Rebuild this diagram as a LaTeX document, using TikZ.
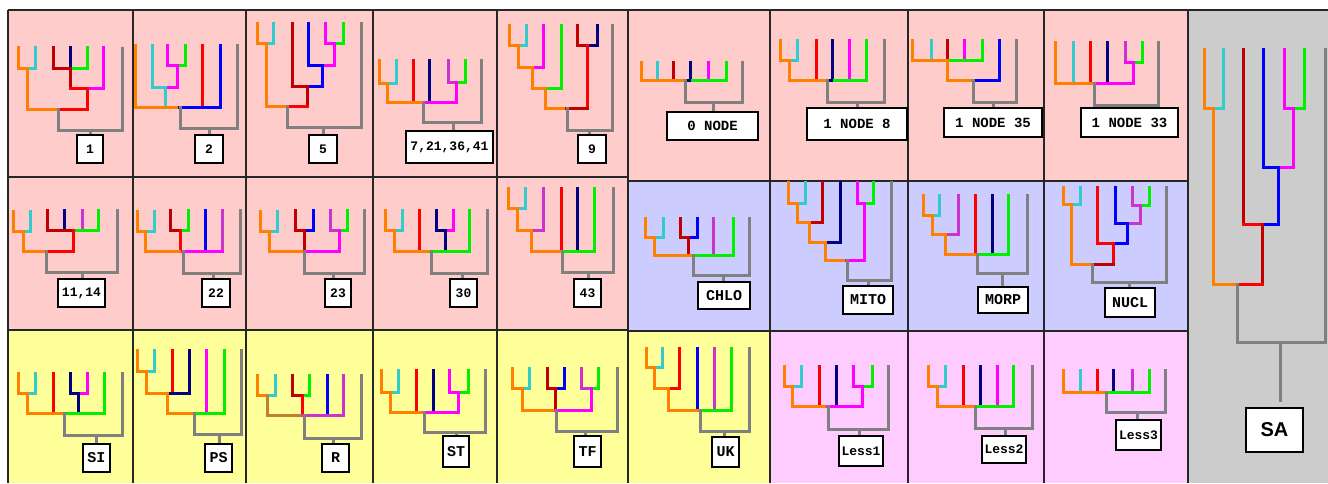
\documentclass[tikz,border=0pt]{standalone}
\usepackage{fontspec}
\setmonofont{Liberation Mono}
\newfontfamily\sansb{Liberation Sans}
\definecolor{O}{HTML}{FF8000}
\definecolor{C}{HTML}{33CCCC}
\definecolor{R}{HTML}{FF0000}
\definecolor{D}{HTML}{C00000}
\definecolor{B}{HTML}{0000FF}
\definecolor{N}{HTML}{000080}
\definecolor{M}{HTML}{FF00FF}
\definecolor{P}{HTML}{CC33CC}
\definecolor{G}{HTML}{00F000}
\definecolor{Y}{HTML}{808080}
\definecolor{K}{HTML}{C08030}
\definecolor{pinkbg}{HTML}{FFCCCC}
\definecolor{lavbg}{HTML}{CCCCFF}
\definecolor{yelbg}{HTML}{FFFF99}
\definecolor{rosebg}{HTML}{FFCCFF}
\definecolor{graybg}{HTML}{CCCCCC}
\newcommand\vseg[4]{\draw[br,draw=#1] (#2,#3) -- (#2,#4);}
\newcommand\hseg[4]{\draw[br,draw=#1] (#2,#4) -- (#3,#4);}
\newcommand\lbox[7]{\node[lab,font=#7,minimum width={#4-#2},minimum height={#5-#3}] (#1) at ({(#2+#4)/2},{(#3+#5)/2}) {#6};}
\tikzset{
  br/.style={line width=3pt, line cap=rect},
  grid/.style={line width=1.5pt, draw={black!85}},
  lab/.style={draw=black, line width=1.3pt, fill=white, inner sep=0pt, text=black},
}
\begin{document}
\begin{tikzpicture}[x=1pt,y=-1pt]
\useasboundingbox (0,0) rectangle (1328,483);
\fill[white] (0,0) rectangle (1328,483);
% backgrounds
\fill[pinkbg] (8,10) rectangle (628,177);
\fill[pinkbg] (628,10) rectangle (1188,181);
\fill[pinkbg] (8,177) rectangle (628,330);
\fill[lavbg] (628,181) rectangle (1188,331);
\fill[yelbg] (8,330) rectangle (770,483);
\fill[yelbg] (628,331) rectangle (770,483);
\fill[rosebg] (770,331) rectangle (1188,483);
\fill[graybg] (1188,10) rectangle (1328,483);
% grid
\draw[grid] (8,10) -- (1328,10);
\draw[grid] (8,10) -- (8,483);
\foreach \gx in {133,246,373,497,628,770,908,1044,1188} {\draw[grid] (\gx,10) -- (\gx,483);}
\draw[grid] (8,177) -- (628,177);
\draw[grid] (628,181) -- (1188,181);
\draw[grid] (8,330) -- (628,330);
\draw[grid] (628,331) -- (1188,331);

% ===== A1 "1"
\vseg{O}{18}{47}{68} \vseg{C}{35}{47}{68} \hseg{O}{18}{27}{68} \hseg{C}{27}{35}{68}
\vseg{O}{27}{68}{109}
\vseg{D}{53}{47}{68} \vseg{N}{70}{47}{68} \vseg{G}{87}{47}{68}
\hseg{D}{53}{70}{68} \hseg{G}{70}{87}{68}
\vseg{D}{70}{68}{88}
\vseg{M}{103}{47}{88} \hseg{R}{70}{87}{88} \hseg{M}{87}{103}{88}
\vseg{R}{87}{88}{109}
\hseg{O}{27}{58}{109} \hseg{R}{58}{87}{109}
\vseg{Y}{58}{109}{130} \vseg{Y}{122}{48}{130} \hseg{Y}{58}{122}{130}
\vseg{Y}{90}{130}{135}
\lbox{l1}{77}{135}{103}{163}{1}{\ttfamily\bfseries\fontsize{13}{13}\selectfont}

% ===== A2 "2"
\vseg{O}{135}{45}{107}
\vseg{C}{152}{45}{87} \vseg{M}{167}{45}{65} \vseg{G}{185}{45}{65}
\hseg{M}{167}{177}{65} \hseg{G}{177}{185}{65}
\vseg{M}{177}{65}{87}
\hseg{C}{152}{165}{87} \hseg{M}{165}{177}{87}
\vseg{C}{165}{87}{107}
\vseg{R}{202}{45}{107} \vseg{B}{220}{45}{107}
\hseg{O}{135}{179}{107} \hseg{B}{179}{220}{107}
\vseg{Y}{180}{107}{128} \vseg{Y}{237}{45}{128} \hseg{Y}{180}{237}{128}
\vseg{Y}{209}{128}{135}
\lbox{l2}{195}{135}{223}{163}{2}{\ttfamily\bfseries\fontsize{13}{13}\selectfont}

% ===== A3 "5"
\vseg{O}{257}{23}{43} \vseg{C}{273}{23}{43} \hseg{O}{257}{266}{43} \hseg{C}{266}{273}{43}
\vseg{O}{266}{43}{106}
\vseg{D}{292}{23}{86}
\vseg{B}{308}{23}{65}
\vseg{M}{325}{23}{43} \vseg{G}{343}{23}{43} \hseg{M}{325}{334}{43} \hseg{G}{334}{343}{43}
\vseg{M}{334}{43}{65} \hseg{B}{308}{322}{65} \hseg{M}{322}{334}{65}
\vseg{B}{322}{65}{86} \hseg{D}{292}{307}{86} \hseg{B}{307}{322}{86}
\vseg{D}{307}{86}{106}
\hseg{O}{266}{287}{106} \hseg{R}{287}{307}{106}
\vseg{Y}{287}{106}{127} \vseg{Y}{361}{23}{127} \hseg{Y}{287}{361}{127}
\vseg{Y}{323}{127}{135}
\lbox{l5}{309}{135}{337}{163}{5}{\ttfamily\bfseries\fontsize{13}{13}\selectfont}

% ===== A4 "7,21,36,41"
\vseg{O}{379}{60}{83} \vseg{C}{396}{60}{83} \hseg{O}{379}{387}{83} \hseg{C}{387}{396}{83}
\vseg{O}{387}{83}{102}
\vseg{R}{413}{60}{102} \vseg{N}{429}{60}{102}
\vseg{P}{448}{60}{82} \vseg{G}{465}{60}{82} \hseg{P}{448}{456}{82} \hseg{G}{456}{465}{82}
\vseg{M}{456}{82}{102}
\hseg{O}{387}{423}{102} \hseg{M}{423}{456}{102}
\vseg{Y}{423}{102}{122} \vseg{Y}{481}{60}{122} \hseg{Y}{423}{481}{122}
\vseg{Y}{453}{122}{131}
\lbox{l7}{406}{131}{493}{163}{7,21,36,41}{\ttfamily\bfseries\fontsize{13}{13}\selectfont}

% ===== A5 "9"
\vseg{O}{509}{25}{45} \vseg{C}{526}{25}{45} \hseg{O}{509}{518}{45} \hseg{C}{518}{526}{45}
\vseg{O}{518}{45}{67} \vseg{M}{543}{25}{67} \hseg{O}{518}{532}{67} \hseg{M}{532}{543}{67}
\vseg{O}{532}{67}{88} \vseg{G}{561}{25}{88} \hseg{O}{532}{546}{88} \hseg{G}{546}{561}{88}
\vseg{O}{545}{88}{108}
\vseg{D}{577}{25}{45} \vseg{N}{597}{25}{45} \hseg{D}{577}{587}{45} \hseg{N}{587}{597}{45}
\vseg{R}{587}{45}{108}
\hseg{O}{545}{566}{108} \hseg{D}{566}{587}{108}
\vseg{Y}{567}{108}{130} \vseg{Y}{612}{25}{130} \hseg{Y}{567}{612}{130}
\vseg{Y}{589}{130}{135}
\lbox{l9}{578}{135}{606}{163}{9}{\ttfamily\bfseries\fontsize{13}{13}\selectfont}

% ===== A6 "0 NODE"
\vseg{O}{641}{62}{80} \vseg{C}{657}{62}{80} \vseg{D}{673}{62}{80} \vseg{N}{690}{62}{80} \vseg{M}{708}{62}{80} \vseg{G}{726}{62}{80}
\hseg{O}{641}{685}{80} \hseg{N}{685}{692}{80} \hseg{G}{692}{726}{80}
\vseg{Y}{685}{80}{102} \vseg{Y}{742}{62}{102} \hseg{Y}{685}{742}{102}
\vseg{Y}{713}{102}{112}
\lbox{l0}{667}{112}{758}{140}{0 NODE}{\ttfamily\bfseries\fontsize{14}{14}\selectfont}

% ===== A7 "1 NODE 8"
\vseg{O}{780}{40}{60} \vseg{C}{797}{40}{60} \hseg{O}{780}{789}{60} \hseg{C}{789}{797}{60}
\vseg{O}{789}{60}{80}
\vseg{R}{816}{40}{80} \vseg{N}{832}{40}{80} \vseg{M}{849}{40}{80} \vseg{G}{866}{40}{80}
\hseg{O}{789}{827}{80} \hseg{N}{827}{834}{80} \hseg{G}{834}{866}{80}
\vseg{Y}{827}{80}{102} \vseg{Y}{884}{40}{102} \hseg{Y}{827}{884}{102}
\vseg{Y}{857}{102}{108}
\lbox{ln8}{807}{108}{907}{140}{1 NODE 8}{\ttfamily\bfseries\fontsize{14}{14}\selectfont}

% ===== A8 "1 NODE 35"
\vseg{O}{912}{40}{60} \vseg{C}{931}{40}{60} \vseg{D}{947}{40}{60} \vseg{M}{964}{40}{60} \vseg{G}{982}{40}{60}
\hseg{O}{912}{947}{60} \hseg{G}{947}{982}{60}
\vseg{O}{947}{60}{80}
\vseg{B}{999}{40}{80}
\hseg{O}{947}{973}{80} \hseg{B}{973}{999}{80}
\vseg{Y}{973}{80}{102} \vseg{Y}{1016}{40}{102} \hseg{Y}{973}{1016}{102}
\vseg{Y}{993}{102}{108}
\lbox{ln35}{944}{108}{1042}{137}{1 NODE 35}{\ttfamily\bfseries\fontsize{14}{14}\selectfont}

% ===== A9 "1 NODE 33"
\vseg{O}{1055}{42}{83} \vseg{C}{1073}{42}{83} \vseg{R}{1090}{42}{83} \vseg{N}{1107}{42}{83}
\vseg{P}{1125}{42}{62} \vseg{G}{1142}{42}{62} \hseg{M}{1125}{1133}{62} \hseg{G}{1133}{1142}{62}
\vseg{M}{1133}{62}{83}
\hseg{O}{1055}{1094}{83} \hseg{M}{1094}{1133}{83}
\vseg{Y}{1094}{83}{105} \vseg{Y}{1158}{42}{105} \hseg{Y}{1094}{1158}{105}
\vseg{Y}{1128}{105}{108}
\lbox{ln33}{1081}{108}{1178}{137}{1 NODE 33}{\ttfamily\bfseries\fontsize{14}{14}\selectfont}

% ===== SA
\vseg{O}{1204}{49}{108} \vseg{C}{1223}{49}{108} \hseg{O}{1204}{1213}{108} \hseg{C}{1213}{1223}{108}
\vseg{O}{1213}{108}{284}
\vseg{D}{1243}{49}{224}
\vseg{B}{1263}{49}{167}
\vseg{M}{1284}{49}{108} \vseg{G}{1304}{49}{108} \hseg{M}{1284}{1293}{108} \hseg{G}{1293}{1304}{108}
\vseg{M}{1293}{108}{167} \hseg{B}{1263}{1278}{167} \hseg{M}{1278}{1293}{167}
\vseg{B}{1278}{167}{224} \hseg{R}{1243}{1262}{224} \hseg{B}{1262}{1278}{224}
\vseg{D}{1262}{224}{284} \hseg{O}{1213}{1238}{284} \hseg{R}{1238}{1262}{284}
\vseg{Y}{1237}{284}{342} \vseg{Y}{1325}{49}{342} \hseg{Y}{1237}{1325}{342}
\vseg{Y}{1280}{342}{400}
\lbox{lsa}{1246}{408}{1303}{452}{SA}{\sansb\bfseries\fontsize{20}{20}\selectfont}

% ===== B1 "11,14"
\vseg{O}{13}{211}{231} \vseg{C}{30}{211}{231} \hseg{O}{13}{23}{231} \hseg{C}{23}{30}{231}
\vseg{O}{23}{231}{251}
\vseg{D}{47}{210}{230} \vseg{N}{64}{210}{230} \vseg{P}{82}{210}{230} \vseg{G}{98}{210}{230}
\hseg{D}{47}{73}{230} \hseg{G}{73}{98}{230}
\vseg{R}{73}{230}{251}
\hseg{O}{23}{47}{251} \hseg{R}{47}{73}{251}
\vseg{Y}{46}{251}{272} \vseg{Y}{117}{210}{272} \hseg{Y}{46}{117}{272}
\vseg{Y}{82}{272}{279}
\lbox{l11}{58}{279}{105}{307}{11,14}{\ttfamily\bfseries\fontsize{13}{13}\selectfont}

% ===== B2 "22"
\vseg{O}{137}{211}{231} \vseg{C}{154}{211}{231} \hseg{O}{137}{145}{231} \hseg{C}{145}{154}{231}
\vseg{O}{145}{231}{251}
\vseg{D}{170}{210}{230} \vseg{G}{188}{210}{230} \hseg{D}{170}{180}{230} \hseg{G}{180}{188}{230}
\vseg{R}{180}{230}{251}
\vseg{B}{205}{210}{251} \vseg{P}{222}{210}{251}
\hseg{O}{145}{182}{251} \hseg{M}{182}{222}{251}
\vseg{Y}{183}{251}{273} \vseg{Y}{240}{210}{273} \hseg{Y}{183}{240}{273}
\vseg{Y}{213}{273}{279}
\lbox{l22}{202}{279}{230}{307}{22}{\ttfamily\bfseries\fontsize{13}{13}\selectfont}

% ===== B3 "23"
\vseg{O}{260}{211}{231} \vseg{C}{277}{211}{231} \hseg{O}{260}{269}{231} \hseg{C}{269}{277}{231}
\vseg{O}{269}{231}{251}
\vseg{D}{295}{210}{230} \vseg{B}{313}{210}{230} \hseg{D}{295}{304}{230} \hseg{B}{304}{313}{230}
\vseg{D}{304}{230}{251}
\vseg{P}{330}{210}{230} \vseg{G}{347}{210}{230} \hseg{P}{330}{339}{230} \hseg{G}{339}{347}{230}
\vseg{M}{339}{230}{251}
\hseg{O}{269}{304}{251} \hseg{M}{304}{339}{251}
\vseg{Y}{304}{251}{273} \vseg{Y}{364}{210}{273} \hseg{Y}{304}{364}{273}
\vseg{Y}{333}{273}{279}
\lbox{l23}{325}{279}{351}{307}{23}{\ttfamily\bfseries\fontsize{13}{13}\selectfont}

% ===== B4 "30"
\vseg{O}{385}{210}{230} \vseg{C}{402}{210}{230} \hseg{O}{385}{394}{230} \hseg{C}{394}{402}{230}
\vseg{O}{394}{230}{251}
\vseg{R}{419}{210}{251}
\vseg{N}{436}{210}{230} \vseg{M}{453}{210}{230} \hseg{N}{436}{445}{230} \hseg{M}{445}{453}{230}
\vseg{N}{445}{230}{251}
\vseg{G}{469}{210}{251}
\hseg{O}{394}{430}{251} \hseg{G}{430}{469}{251}
\vseg{Y}{431}{251}{273} \vseg{Y}{487}{210}{273} \hseg{Y}{431}{487}{273}
\vseg{Y}{462}{273}{279}
\lbox{l30}{450}{279}{477}{307}{30}{\ttfamily\bfseries\fontsize{13}{13}\selectfont}

% ===== B5 "43"
\vseg{O}{508}{188}{208} \vseg{C}{525}{188}{208} \hseg{O}{508}{517}{208} \hseg{C}{517}{525}{208}
\vseg{O}{517}{208}{230} \vseg{P}{543}{188}{230} \hseg{O}{517}{531}{230} \hseg{P}{531}{543}{230}
\vseg{O}{531}{230}{251}
\vseg{R}{561}{188}{251} \vseg{N}{577}{188}{248} \vseg{G}{594}{188}{251}
\hseg{O}{531}{562}{251} \hseg{G}{562}{594}{251}
\vseg{Y}{562}{251}{272} \vseg{Y}{613}{188}{272} \hseg{Y}{562}{613}{272}
\vseg{Y}{588}{272}{279}
\lbox{l43}{574}{279}{601}{307}{43}{\ttfamily\bfseries\fontsize{13}{13}\selectfont}

% ===== B6 "CHLO"
\vseg{O}{645}{218}{237} \vseg{C}{663}{218}{237} \hseg{O}{645}{654}{237} \hseg{C}{654}{663}{237}
\vseg{O}{654}{237}{255}
\vseg{D}{680}{218}{237} \vseg{B}{697}{218}{237} \hseg{D}{680}{688}{237} \hseg{B}{688}{697}{237}
\vseg{D}{688}{237}{255}
\vseg{P}{713}{218}{255} \vseg{G}{733}{218}{255}
\hseg{O}{654}{693}{255} \hseg{G}{693}{733}{255}
\vseg{Y}{693}{255}{275} \vseg{Y}{749}{218}{275} \hseg{Y}{693}{749}{275}
\vseg{Y}{723}{275}{282}
\lbox{lchlo}{698}{282}{750}{309}{CHLO}{\ttfamily\bfseries\fontsize{15}{15}\selectfont}

% ===== B7 "MITO"
\vseg{O}{788}{182}{203} \vseg{C}{805}{182}{203} \hseg{O}{788}{797}{203} \hseg{C}{797}{805}{203}
\vseg{O}{797}{203}{222} \vseg{D}{822}{182}{222} \hseg{O}{797}{809}{222} \hseg{D}{809}{822}{222}
\vseg{O}{809}{222}{242} \vseg{N}{840}{182}{242} \hseg{O}{809}{825}{242} \hseg{N}{825}{840}{242}
\vseg{O}{825}{242}{260}
\vseg{M}{857}{182}{203} \vseg{G}{873}{182}{203} \hseg{M}{857}{864}{203} \hseg{G}{864}{873}{203}
\vseg{M}{864}{203}{260}
\hseg{O}{825}{846}{260} \hseg{M}{846}{864}{260}
\vseg{Y}{847}{260}{280} \vseg{Y}{891}{182}{280} \hseg{Y}{847}{891}{280}
\vseg{Y}{868}{280}{286}
\lbox{lmito}{843}{286}{893}{314}{MITO}{\ttfamily\bfseries\fontsize{15}{15}\selectfont}

% ===== B8 "MORP"
\vseg{O}{923}{195}{215} \vseg{C}{939}{195}{215} \hseg{O}{923}{932}{215} \hseg{C}{932}{939}{215}
\vseg{O}{932}{215}{234} \vseg{P}{958}{195}{234} \hseg{O}{932}{945}{234} \hseg{P}{945}{958}{234}
\vseg{O}{945}{234}{254}
\vseg{R}{975}{195}{254} \vseg{N}{992}{195}{252} \vseg{G}{1008}{195}{254}
\hseg{O}{945}{977}{254} \hseg{G}{977}{1008}{254}
\vseg{Y}{977}{254}{273} \vseg{Y}{1027}{195}{273} \hseg{Y}{977}{1027}{273}
\vseg{Y}{1002}{273}{287}
\lbox{lmorp}{978}{287}{1028}{313}{MORP}{\ttfamily\bfseries\fontsize{15}{15}\selectfont}

% ===== B9 "NUCL"
\vseg{O}{1063}{187}{204} \vseg{C}{1080}{187}{204} \hseg{O}{1063}{1071}{204} \hseg{C}{1071}{1080}{204}
\vseg{O}{1071}{204}{264}
\vseg{R}{1097}{187}{243}
\vseg{B}{1115}{187}{223}
\vseg{P}{1132}{187}{205} \vseg{G}{1149}{187}{205} \hseg{P}{1132}{1140}{205} \hseg{G}{1140}{1149}{205}
\vseg{P}{1140}{205}{223} \hseg{B}{1115}{1127}{223} \hseg{P}{1127}{1140}{223}
\vseg{B}{1127}{223}{243} \hseg{R}{1097}{1113}{243} \hseg{B}{1113}{1127}{243}
\vseg{R}{1113}{243}{264} \hseg{O}{1071}{1092}{264} \hseg{D}{1092}{1113}{264}
\vseg{Y}{1092}{264}{282} \vseg{Y}{1166}{187}{282} \hseg{Y}{1092}{1166}{282}
\vseg{Y}{1129}{282}{288}
\lbox{lnucl}{1105}{288}{1155}{317}{NUCL}{\ttfamily\bfseries\fontsize{15}{15}\selectfont}

% ===== C1 "SI"
\vseg{O}{18}{373}{393} \vseg{C}{35}{373}{393} \hseg{O}{18}{27}{393} \hseg{C}{27}{35}{393}
\vseg{O}{27}{393}{413}
\vseg{R}{53}{373}{413}
\vseg{N}{70}{373}{393} \vseg{M}{87}{373}{393} \hseg{N}{70}{78}{393} \hseg{M}{78}{87}{393}
\vseg{N}{78}{393}{413}
\vseg{G}{104}{373}{413}
\hseg{O}{27}{64}{413} \hseg{G}{64}{104}{413}
\vseg{Y}{64}{413}{435} \vseg{Y}{122}{373}{435} \hseg{Y}{64}{122}{435}
\vseg{Y}{96}{435}{444}
\lbox{lsi}{83}{444}{110}{472}{SI}{\ttfamily\bfseries\fontsize{15}{15}\selectfont}

% ===== C2 "PS"
\vseg{O}{137}{350}{371} \vseg{C}{154}{350}{371} \hseg{O}{137}{146}{371} \hseg{C}{146}{154}{371}
\vseg{O}{146}{371}{393}
\vseg{R}{172}{350}{393} \vseg{N}{189}{350}{393}
\hseg{O}{146}{168}{393} \hseg{N}{168}{189}{393}
\vseg{O}{167}{393}{413}
\vseg{M}{206}{350}{413} \vseg{G}{224}{350}{413}
\hseg{O}{167}{195}{413} \hseg{G}{195}{224}{413}
\vseg{Y}{194}{413}{434} \vseg{Y}{241}{350}{434} \hseg{Y}{194}{241}{434}
\vseg{Y}{219}{434}{444}
\lbox{lps}{205}{444}{232}{472}{PS}{\ttfamily\bfseries\fontsize{15}{15}\selectfont}

% ===== C3 "R"
\vseg{O}{257}{375}{395} \vseg{C}{275}{375}{395} \hseg{O}{257}{267}{395} \hseg{C}{267}{275}{395}
\vseg{K}{267}{395}{415}
\vseg{D}{292}{375}{395} \vseg{G}{309}{375}{395} \hseg{D}{292}{302}{395} \hseg{G}{302}{309}{395}
\vseg{R}{302}{395}{415}
\vseg{B}{327}{375}{415} \vseg{P}{343}{375}{415}
\hseg{K}{267}{302}{415} \hseg{P}{302}{343}{415}
\vseg{Y}{304}{415}{438} \vseg{Y}{361}{375}{438} \hseg{Y}{304}{361}{438}
\vseg{Y}{333}{438}{444}
\lbox{lr}{322}{444}{349}{472}{R}{\ttfamily\bfseries\fontsize{15}{15}\selectfont}

% ===== C4 "ST"
\vseg{O}{381}{370}{392} \vseg{C}{398}{370}{392} \hseg{O}{381}{390}{392} \hseg{C}{390}{398}{392}
\vseg{O}{390}{392}{412}
\vseg{R}{416}{370}{412} \vseg{N}{433}{370}{412}
\vseg{M}{449}{370}{392} \vseg{G}{468}{370}{392} \hseg{M}{449}{458}{392} \hseg{G}{458}{468}{392}
\vseg{M}{458}{392}{412}
\hseg{O}{390}{424}{412} \hseg{M}{424}{458}{412}
\vseg{Y}{424}{412}{432} \vseg{Y}{485}{370}{432} \hseg{Y}{424}{485}{432}
\vseg{Y}{456}{432}{436}
\lbox{lst}{443}{436}{469}{467}{ST}{\ttfamily\bfseries\fontsize{15}{15}\selectfont}

% ===== C5 "TF"
\vseg{O}{512}{368}{388} \vseg{C}{529}{368}{388} \hseg{O}{512}{522}{388} \hseg{C}{522}{529}{388}
\vseg{O}{522}{388}{410}
\vseg{D}{547}{368}{388} \vseg{B}{564}{368}{388} \hseg{D}{547}{555}{388} \hseg{B}{555}{564}{388}
\vseg{D}{555}{388}{410}
\vseg{P}{581}{368}{388} \vseg{G}{598}{368}{388} \hseg{P}{581}{591}{388} \hseg{G}{591}{598}{388}
\vseg{M}{591}{388}{410}
\hseg{O}{522}{555}{410} \hseg{M}{555}{591}{410}
\vseg{Y}{556}{410}{431} \vseg{Y}{617}{368}{431} \hseg{Y}{556}{617}{431}
\vseg{Y}{585}{431}{436}
\lbox{ltf}{574}{436}{601}{467}{TF}{\ttfamily\bfseries\fontsize{15}{15}\selectfont}

% ===== C6 "UK"
\vseg{O}{646}{348}{367} \vseg{C}{662}{348}{367} \hseg{O}{646}{654}{367} \hseg{C}{654}{662}{367}
\vseg{O}{654}{367}{388} \vseg{R}{679}{348}{388} \hseg{O}{654}{668}{388} \hseg{R}{668}{679}{388}
\vseg{O}{668}{388}{410}
\vseg{B}{697}{348}{410} \vseg{P}{714}{348}{410} \vseg{G}{731}{348}{410}
\hseg{O}{668}{700}{410} \hseg{G}{700}{731}{410}
\vseg{Y}{700}{410}{431} \vseg{Y}{749}{348}{431} \hseg{Y}{700}{749}{431}
\vseg{Y}{724}{431}{437}
\lbox{luk}{712}{437}{739}{467}{UK}{\ttfamily\bfseries\fontsize{15}{15}\selectfont}

% ===== C7 "Less1"
\vseg{O}{784}{366}{386} \vseg{C}{801}{366}{386} \hseg{O}{784}{792}{386} \hseg{C}{792}{801}{386}
\vseg{O}{792}{386}{406}
\vseg{R}{819}{366}{406} \vseg{N}{836}{366}{406}
\vseg{M}{853}{366}{386} \vseg{G}{872}{366}{386} \hseg{M}{853}{862}{386} \hseg{G}{862}{872}{386}
\vseg{M}{862}{386}{406}
\hseg{O}{792}{827}{406} \hseg{M}{827}{862}{406}
\vseg{Y}{828}{406}{429} \vseg{Y}{888}{366}{429} \hseg{Y}{828}{888}{429}
\vseg{Y}{859}{429}{436}
\lbox{lless1}{839}{436}{883}{466}{Less1}{\ttfamily\bfseries\fontsize{13}{13}\selectfont}

% ===== C8 "Less2"
\vseg{O}{928}{366}{386} \vseg{C}{945}{366}{386} \hseg{O}{928}{937}{386} \hseg{C}{937}{945}{386}
\vseg{O}{937}{386}{406}
\vseg{R}{963}{366}{406} \vseg{N}{980}{366}{406} \vseg{M}{997}{366}{406} \vseg{G}{1013}{366}{406}
\hseg{O}{937}{975}{406} \hseg{G}{975}{1013}{406}
\vseg{Y}{975}{406}{428} \vseg{Y}{1032}{366}{428} \hseg{Y}{975}{1032}{428}
\vseg{Y}{1005}{428}{436}
\lbox{lless2}{982}{436}{1026}{463}{Less2}{\ttfamily\bfseries\fontsize{13}{13}\selectfont}

% ===== C9 "Less3"
\vseg{O}{1063}{370}{392} \vseg{C}{1080}{370}{392} \vseg{R}{1097}{370}{392} \vseg{N}{1113}{370}{392} \vseg{P}{1132}{370}{392} \vseg{G}{1149}{370}{392}
\hseg{O}{1063}{1106}{392} \hseg{G}{1106}{1149}{392}
\vseg{Y}{1106}{392}{412} \vseg{Y}{1165}{370}{412} \hseg{Y}{1106}{1165}{412}
\vseg{Y}{1137}{412}{420}
\lbox{lless3}{1116}{420}{1161}{450}{Less3}{\ttfamily\bfseries\fontsize{13}{13}\selectfont}
\end{tikzpicture}
\end{document}
